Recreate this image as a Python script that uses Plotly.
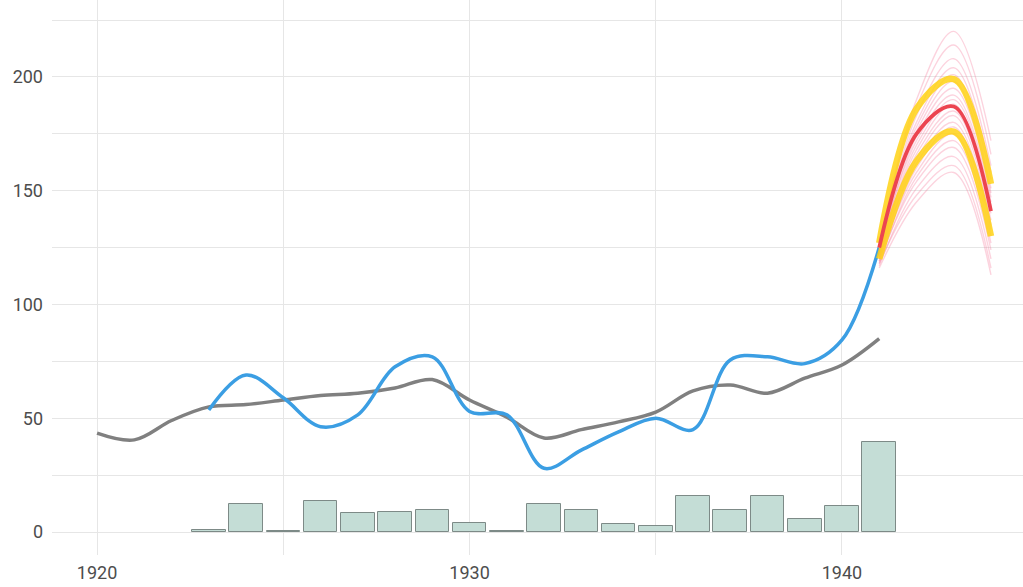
import plotly.graph_objects as go

# ---- data ----
bar_years = list(range(1923, 1942))
bar_values = [1, 12.2, 0.5, 13.6, 8.2, 8.8, 9.7, 3.8, 0.5, 12.2, 9.5, 3.5, 2.8, 16, 9.5, 16, 5.9, 11.6, 39.7]

gray_years = list(range(1920, 1942))
gray_values = [43.5, 40.5, 49, 55, 56, 58, 60, 61, 63.3, 67, 58, 50.5, 41.3, 45, 48.4, 52.7, 62, 64.6, 61, 67.6, 73.4, 85]

blue_years = list(range(1923, 1942))
blue_values = [53.6, 69, 59, 46.3, 51.5, 72.6, 77, 53, 51.5, 28, 36, 44, 50, 45, 75.6, 77, 74, 84.4, 125]

fc_years = [1941, 1942, 1943, 1944]
fc_median = [125, 175, 187, 141]
fc_upper = [127, 186, 199, 153]
fc_lower = [120, 163, 176, 130]

fc_samples = [
    [126, 190, 220, 172],
    [125, 187, 214, 166],
    [124, 183, 208, 161],
    [125, 180, 204, 158],
    [123, 178, 201, 155],
    [124, 176, 198, 151],
    [122, 174, 195, 149],
    [123, 172, 192, 147],
    [121, 170, 190, 145],
    [122, 168, 188, 143],
    [121, 166, 185, 140],
    [120, 164, 183, 137],
    [121, 162, 180, 135],
    [119, 160, 178, 133],
    [120, 158, 175, 130],
    [118, 156, 172, 127],
    [119, 154, 169, 124],
    [117, 151, 165, 120],
    [118, 148, 161, 116],
    [116, 145, 158, 113],
]

x_ticks = [1920, 1930, 1940]
y_ticks = [0, 50, 100, 150, 200]

fig = go.Figure()

fig.add_trace(go.Bar(
    x=bar_years, y=bar_values, width=0.9,
    marker=dict(color="#c4ddd6", line=dict(color="#7d8a87", width=1)),
    hoverinfo="skip",
))

fig.add_trace(go.Scatter(
    x=gray_years, y=gray_values, mode="lines",
    line=dict(color="#808080", width=3.5, shape="spline", smoothing=1.0),
))

fig.add_trace(go.Scatter(
    x=blue_years, y=blue_values, mode="lines",
    line=dict(color="#3b9ee3", width=3.5, shape="spline", smoothing=1.0),
))

for s in fc_samples:
    fig.add_trace(go.Scatter(
        x=fc_years, y=s, mode="lines",
        line=dict(color="rgba(245,110,145,0.3)", width=1.4, shape="spline", smoothing=1.0),
    ))

for band in (fc_upper, fc_lower):
    fig.add_trace(go.Scatter(
        x=fc_years, y=band, mode="lines",
        line=dict(color="rgba(255,210,20,0.85)", width=6.5, shape="spline", smoothing=1.0),
    ))

fig.add_trace(go.Scatter(
    x=fc_years, y=fc_median, mode="lines",
    line=dict(color="#ec4450", width=3.8, shape="spline", smoothing=1.0),
))

grid = "#e6e6e6"
fig.update_layout(
    width=1023, height=587,
    margin=dict(l=52, r=0, t=0, b=32),
    paper_bgcolor="white", plot_bgcolor="white",
    showlegend=False,
    bargap=0,
    font=dict(family="Roboto, sans-serif", size=18, color="#4d4d4d"),
    xaxis=dict(
        range=[1918.79, 1944.86], automargin=False,
        tickvals=x_ticks, ticktext=[str(v) for v in x_ticks],
        ticklabelstandoff=5,
        showgrid=True, gridcolor=grid, gridwidth=1,
        minor=dict(tickvals=[1925, 1935, 1945], showgrid=True, gridcolor=grid, gridwidth=1),
        zeroline=False, showline=False, ticks="",
    ),
    yaxis=dict(
        range=[-10.1, 233.8], automargin=False,
        tickvals=y_ticks, ticktext=[str(v) for v in y_ticks],
        ticklabelstandoff=8,
        showgrid=True, gridcolor=grid, gridwidth=1,
        minor=dict(tickvals=[25, 75, 125, 175, 225], showgrid=True, gridcolor=grid, gridwidth=1),
        zeroline=False, showline=False, ticks="",
    ),
)

fig.write_html(
    "out.html",
    config={"displayModeBar": False},
    post_script="document.body.style.margin='0';document.body.style.overflow='hidden';",
)
